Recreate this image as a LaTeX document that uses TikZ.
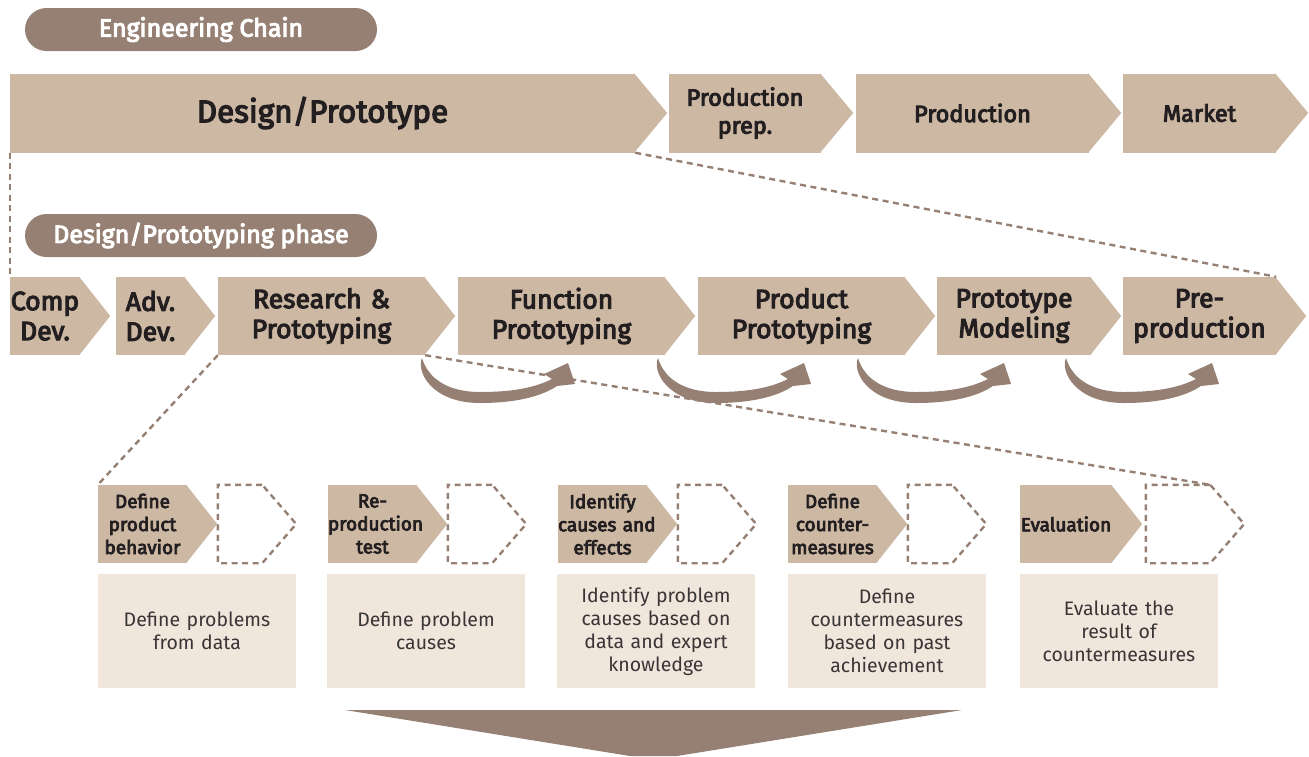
\documentclass[tikz,border=0pt]{standalone}
\usepackage{fontspec}
\setmainfont{Fira Sans}
\newfontfamily\semibold{Fira Sans}[FakeBold=4]
\usetikzlibrary{backgrounds}

\definecolor{chevtan}{HTML}{CDB8A4}
\definecolor{pillbrown}{HTML}{958073}
\definecolor{notebg}{HTML}{F1E6DC}
\definecolor{inkdark}{HTML}{231F20}
\definecolor{notegray}{HTML}{3A3536}

\begin{document}
\begin{tikzpicture}[x=1pt, y=-1pt,
    pill/.style={fill=pillbrown, rounded corners=21.5pt, minimum width=352pt, minimum height=43pt, inner sep=0pt, text=white, font=\semibold\fontsize{25}{30}\selectfont},
    topbox/.style={fill=chevtan, text=inkdark, text width=#1, align=center, inner sep=0pt, minimum height=79pt, font=\semibold\fontsize{23.5}{28}\selectfont},
    rowbox/.style={fill=chevtan, text=inkdark, text width=#1, align=center, inner sep=0pt, minimum height=78pt, font=\semibold\fontsize{26.5}{30}\selectfont},
    stepbox/.style={fill=chevtan, text=inkdark, text width=#1, align=center, inner sep=0pt, minimum height=78pt, font=\semibold\fontsize{19}{23}\selectfont},
    ghost/.style={minimum width=#1, minimum height=78pt, inner sep=0pt},
    note/.style={fill=notebg, text=notegray, text width=198pt, align=center, inner sep=0pt, minimum height=114pt, font=\fontsize{19.5}{23}\selectfont},
    dashline/.style={draw=pillbrown, line width=2.4pt, dash pattern=on 6pt off 4.5pt}]

\useasboundingbox (0,0) rectangle (1309,756);

% Headers
\node[pill] (chain) at (201,29.5) {Engineering Chain};
\node[pill] (phase) at (201,235.5) {Design/Prototyping phase};

% Engineering chain
\node[topbox=625pt, font=\semibold\fontsize{31.5}{34}\selectfont] (design) at (322.5,113) {Design/Prototype};
\node[topbox=152pt] (prep) at (745,113) {Production\\prep.};
\node[topbox=233pt] (prod) at (972.5,113) {Production};
\node[topbox=153pt] (market) at (1199.5,113) {Market};

% Design/prototyping phase
\node[rowbox=70pt] (comp) at (45,316) {Comp\\Dev.};
\node[rowbox=69pt] (adv) at (150.5,316) {Adv.\\Dev.};
\node[rowbox=207pt] (research) at (321.5,316) {Research \&\\Prototyping};
\node[rowbox=207pt] (func) at (561.5,316) {Function\\Prototyping};
\node[rowbox=207pt] (product) at (801.5,316) {Product\\Prototyping};
\node[rowbox=154pt] (model) at (1014,316) {Prototype\\Modeling};
\node[rowbox=153pt] (preprod) at (1199.5,316) {Pre-\\production};

% Steps
\node[stepbox=89pt] (def1) at (142.5,524) {Define\\product\\behavior};
\node[stepbox=89pt] (def2) at (372.5,524) {Re-\\production\\test};
\node[stepbox=89pt] (def3) at (602.5,524) {Identify\\causes~and\\effects};
\node[stepbox=89pt] (def4) at (832.5,524) {Define\\counter-\\measures};
\node[stepbox=92pt] (def5) at (1066,524) {Evaluation};
\node[ghost=44pt] (g1) at (240,524) {};
\node[ghost=44pt] (g2) at (470,524) {};
\node[ghost=44pt] (g3) at (700,524) {};
\node[ghost=44pt] (g4) at (930,524) {};
\node[ghost=64pt] (g5) at (1178,524) {};

% Notes
\node[note] (note1) at (197,631) {Define problems\\from data};
\node[note] (note2) at (426,631) {Define problem\\causes};
\node[note] (note3) at (656,631) {Identify problem\\causes based on\\data and expert\\knowledge};
\node[note] (note4) at (887,631) {Define\\countermeasures\\based on past\\achievement};
\node[note] (note5) at (1119,631) {Evaluate the\\result of\\countermeasures};

% Arrow tips
\begin{scope}[on background layer]
\foreach \n in {design,prep,prod,market}
  \fill[chevtan] ([xshift=-1pt]\n.north east) -- ([xshift=32pt]\n.east) -- ([xshift=-1pt]\n.south east) -- cycle;
\foreach \n in {comp,adv,research,func,product,model,preprod,def1,def2,def3,def4,def5}
  \fill[chevtan] ([xshift=-1pt]\n.north east) -- ([xshift=30pt]\n.east) -- ([xshift=-1pt]\n.south east) -- cycle;
\end{scope}
\foreach \n in {g1,g2,g3,g4,g5}
  \draw[dashline] (\n.north east) -- (\n.north west) -- (\n.south west) -- (\n.south east) -- ([xshift=34pt]\n.east) -- cycle;

% Curved arrows
\foreach \x in {422,658,858,1066}
  \fill[pillbrown, shift={(\x,358)}] (0,0) .. controls (-6,14) and (10,45) .. (58,45)
    .. controls (95,45) and (120,38) .. (135,28) -- (153,26) -- (146,5) -- (122,16) -- (130,21)
    .. controls (110,31) and (86,34) .. (58,34) .. controls (25,34) and (6,20) .. (0,0) -- cycle;

% Connections
\draw[dashline] (design.south west) -- (comp.north west);
\draw[dashline] (design.south east) -- (preprod.north east);
\draw[dashline] (research.south west) -- (def1.north west);
\draw[dashline] (research.south east) -- (g5.north east);

% Down arrow
\fill[pillbrown] (345,710) -- (962,710) -- (677,756) -- (630,756) -- cycle;
\end{tikzpicture}
\end{document}
